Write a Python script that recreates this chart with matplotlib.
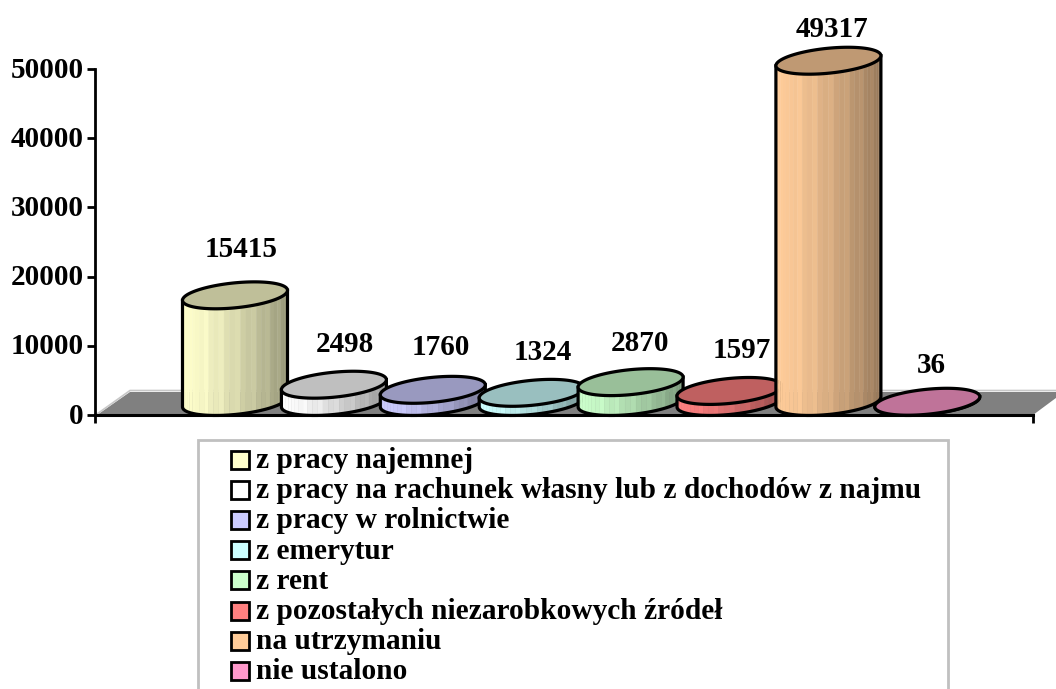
import matplotlib
matplotlib.use('Agg')
import matplotlib.pyplot as plt
import numpy as np
from matplotlib.collections import PolyCollection
from matplotlib.patches import Polygon, Rectangle
from matplotlib.colors import to_rgb
from matplotlib.transforms import ScaledTranslation

plt.rcParams['font.family'] = ['Liberation Serif', 'DejaVu Serif']
plt.rcParams['font.weight'] = 'bold'

# data
categories = ['z pracy najemnej',
              'z pracy na rachunek własny lub z dochodów z najmu',
              'z pracy w rolnictwie',
              'z emerytur',
              'z rent',
              'z pozostałych niezarobkowych źródeł',
              'na utrzymaniu',
              'nie ustalono']
values = [15415, 2498, 1760, 1324, 2870, 1597, 49317, 36]
yticks = [0, 10000, 20000, 30000, 40000, 50000]

# styles
colors = ['#ffffcc', '#ffffff', '#ccccff', '#ccffff', '#ccffcc', '#ff8080', '#ffcc99', '#ff99cc']
label_dx = [6, 11, 8, 11, 9, 12, 4, 4]
label_dy = [46, 40, 42, 40, 39, 40, 31, 36]

W, H = 1056, 689
fig = plt.figure(figsize=(W / 100, H / 100), dpi=100)

# pixel layer for floor and legend
bg = fig.add_axes([0, 0, 1, 1])
bg.set_xlim(0, W)
bg.set_ylim(H, 0)
bg.axis('off')

# value axes, x in category units
left, right, top, bottom = 95, 1033, 69, 415
x0, step = 235, 98.9
ax = fig.add_axes([left / W, 1 - bottom / H, (right - left) / W, (bottom - top) / H])
ax.patch.set_alpha(0)
ax.set_xlim((left - x0) / step, (right - x0) / step)
ax.set_ylim(0, 50000)
px_y = 50000 / (bottom - top)   # value per pixel
px_x = 1 / step

# floor
bg.add_patch(Polygon([(97, 415), (130, 392), (1064, 392), (1033, 415)], closed=True,
                     facecolor='#808080', edgecolor='none', zorder=1))
bg.plot([97, 130, 1064], [414, 390.5, 390.5], color='#c8c8c8', lw=1.2, zorder=1)

# cylinder geometry in pixels
a, b, s = 52.5, 12.5, 5
base = 13


def rim(t):
    # ellipse tilted up to the right
    ex = np.cos(t)
    ey = np.sin(t)
    return a * ex, b * ey + s * ex


def cylinder(i, val, color):
    cx = i
    cy0 = base * px_y
    cy1 = cy0 + val
    c = np.array(to_rgb(color))
    # side strips
    t = np.linspace(np.pi, 2 * np.pi, 31)
    rx, ry = rim(t)
    xs = cx + rx * px_x
    low = cy0 + ry * px_y
    up = cy1 + ry * px_y
    strips = []
    cols = []
    for k in range(len(t) - 1):
        strips.append([(xs[k], low[k]), (xs[k + 1], low[k + 1]), (xs[k + 1], up[k + 1]), (xs[k], up[k])])
        f = 1 - 0.42 * ((xs[k] - xs[0]) / (xs[-1] - xs[0])) ** 1.3
        if k % 3 == 0 and k > 8:
            f = f + 0.035
        cols.append(np.minimum(c * f, 1))
    side = PolyCollection(strips, facecolors=cols, edgecolors=cols, linewidths=0.3,
                          clip_on=False, zorder=3 + i)
    ax.add_collection(side)
    outline = np.r_[np.c_[xs, low], [[xs[-1], up[-1]]], [[xs[0], up[0]]]]
    ax.add_patch(Polygon(outline, closed=True, fill=False, edgecolor='black', lw=2.3,
                         clip_on=False, zorder=3 + i))
    # top face
    rx2, ry2 = rim(np.linspace(0, 2 * np.pi, 160))
    ax.add_patch(Polygon(np.c_[cx + rx2 * px_x, cy1 + ry2 * px_y], closed=True, facecolor=c * 0.75,
                         edgecolor='black', lw=2.3, clip_on=False, zorder=3 + i))


for i in range(len(values)):
    cylinder(i, values[i], colors[i])
    ax.annotate(str(values[i]), (i, (base * px_y) + values[i]),
                xytext=(label_dx[i], label_dy[i]), textcoords='offset pixels',
                ha='center', va='center', fontsize=21, fontweight='bold', annotation_clip=False, zorder=20)

# axes
for sp in ['top', 'right']:
    ax.spines[sp].set_visible(False)
ax.spines['left'].set_linewidth(2)
ax.spines['bottom'].set_linewidth(2.2)
ax.spines['left'].set_zorder(2)
ax.spines['bottom'].set_zorder(2)
ax.set_yticks(yticks)
ax.set_yticklabels([str(v) for v in yticks], fontsize=21, fontweight='bold', va='center_baseline')
ax.tick_params(axis='y', length=6, width=2, pad=2)
shift = ScaledTranslation(0, 2 / 100, fig.dpi_scale_trans)
for lab in ax.get_yticklabels():
    lab.set_transform(lab.get_transform() + shift)
ax.set_xticks([ax.get_xlim()[0], ax.get_xlim()[1]])
ax.set_xticklabels(['', ''])
ax.tick_params(axis='x', length=6, width=2)

# legend
bg.add_patch(Rectangle((198, 440), 750, 280, facecolor='white', edgecolor='#c0c0c0', lw=2, zorder=1))
for i in range(len(categories)):
    yy = 459.5 + 30.2 * i
    bg.add_patch(Rectangle((231, yy - 9), 18, 18, facecolor=colors[i], edgecolor='black', lw=2, zorder=2))
    bg.text(256, yy + 1, categories[i], fontsize=21.2, fontweight='bold', va='center', ha='left', zorder=2)

fig.savefig('out.png', dpi=100)
